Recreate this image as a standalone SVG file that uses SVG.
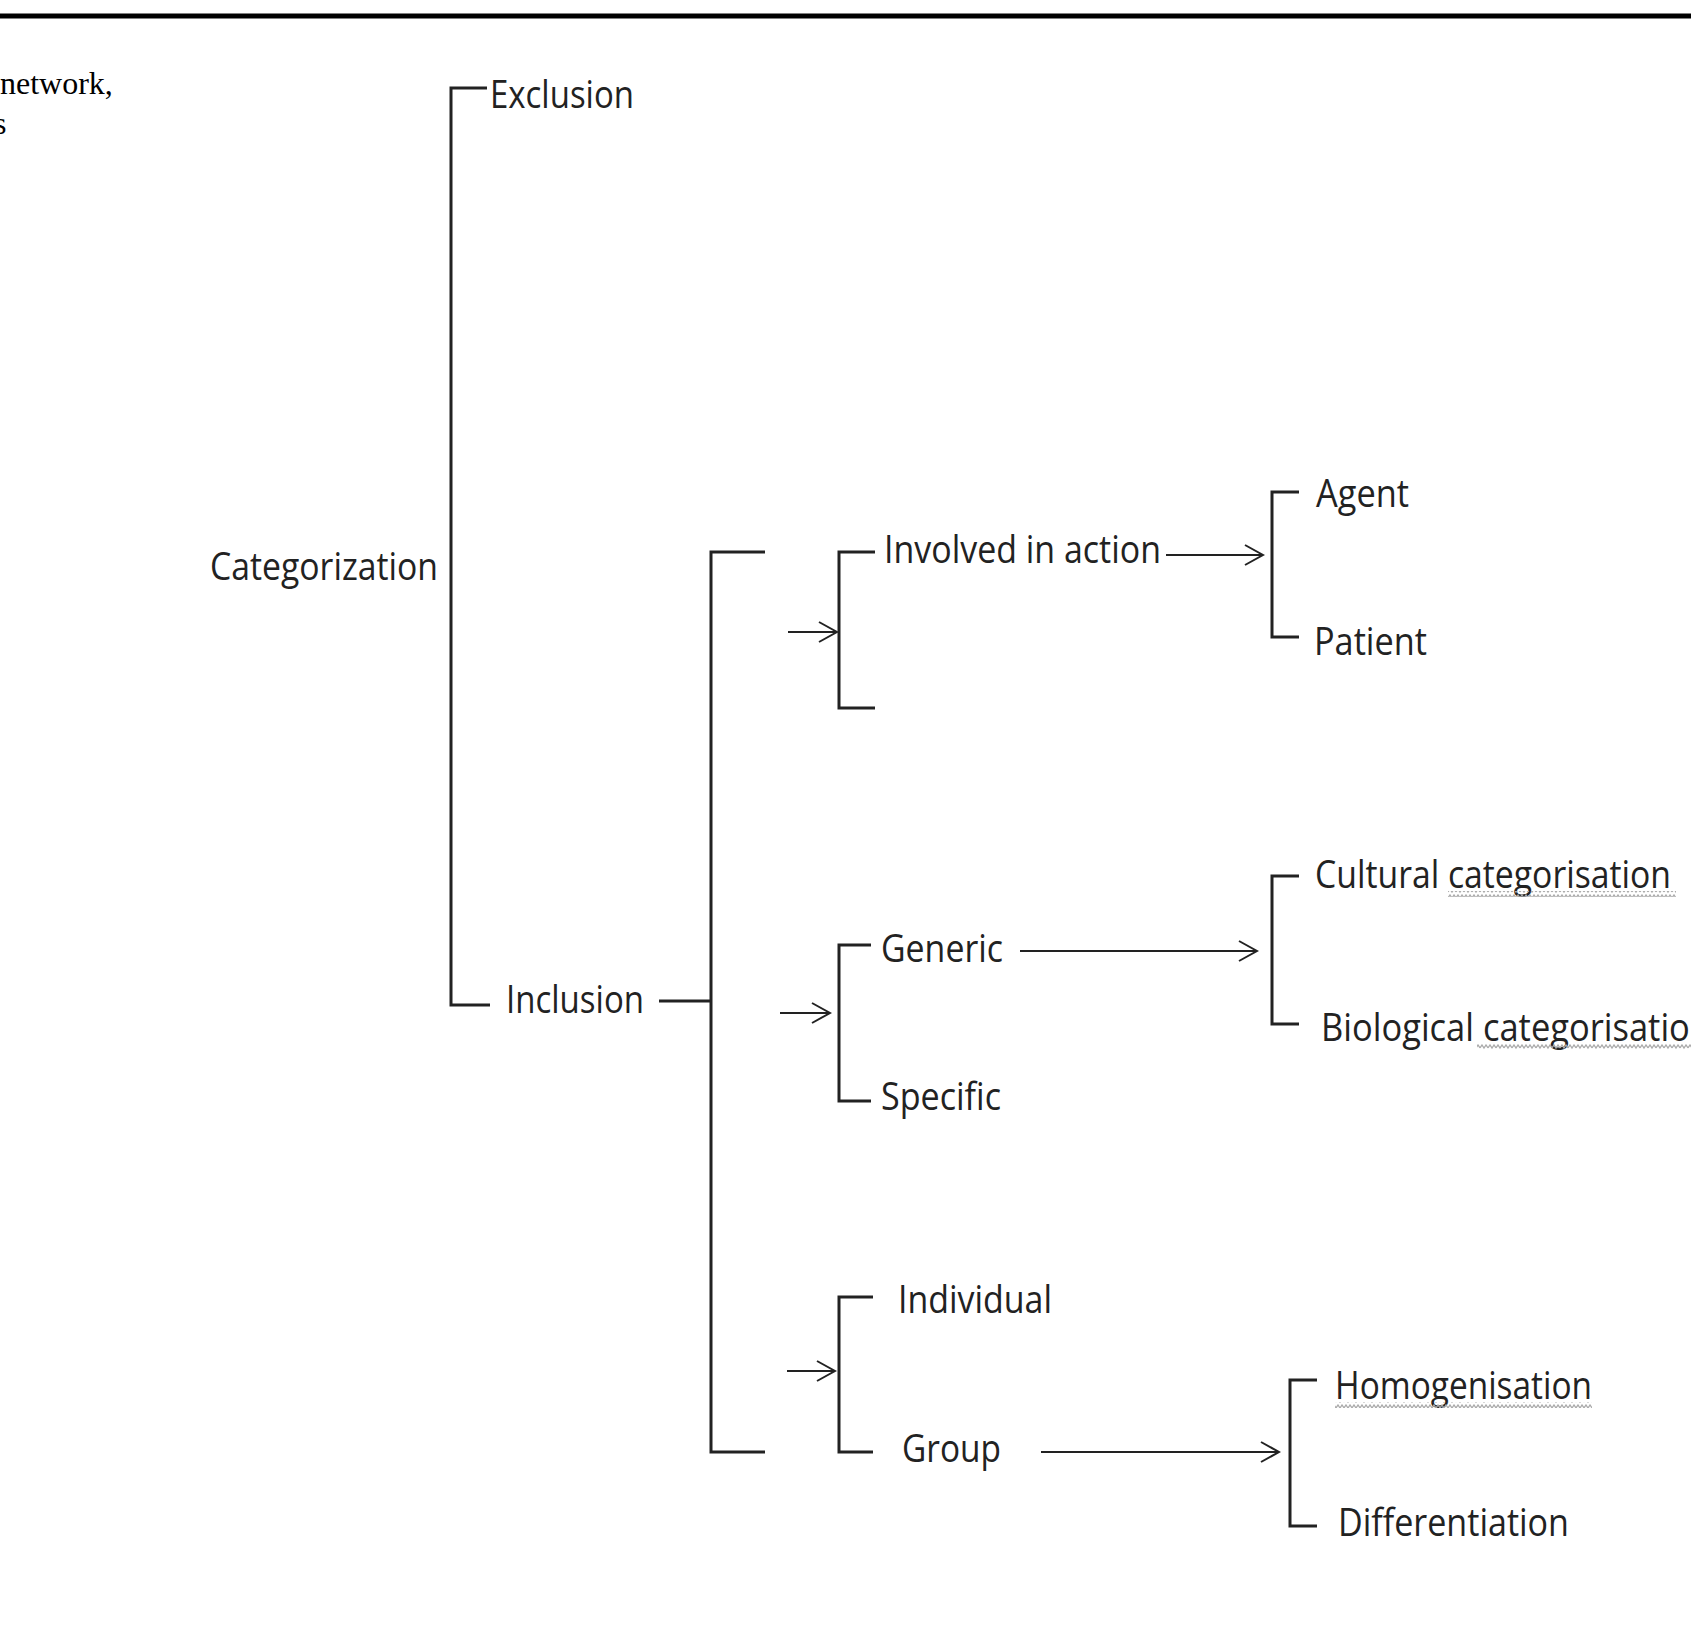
<svg xmlns="http://www.w3.org/2000/svg" width="1691" height="1632" viewBox="0 0 1691 1632">
<defs>
<style>
.t{font-family:"Open Sans","Liberation Sans",sans-serif;font-size:38px;fill:#222}
.s{font-family:"Liberation Serif",serif;font-size:32px;fill:#000}
.b{fill:none;stroke:#222;stroke-width:3}
.a{fill:none;stroke:#222;stroke-width:2}
.w{fill:none;stroke:#aaa;stroke-width:1.5}
</style>
<marker id="ah" markerWidth="24" markerHeight="24" refX="22" refY="12" orient="auto" markerUnits="userSpaceOnUse">
<path d="M4,2 L22,12 L4,22" fill="none" stroke="#222" stroke-width="2"/>
</marker>
<pattern id="wv" width="8" height="6" patternUnits="userSpaceOnUse">
<path d="M0,4 L2,1 L4,4 L6,1 L8,4" fill="none" stroke="#aaa" stroke-width="1.3"/>
</pattern>
</defs>
<rect width="1691" height="1632" fill="#fff"/>
<line x1="0" y1="16" x2="1691" y2="16" stroke="#000" stroke-width="5"/>
<text class="s" x="0" y="94">network,</text>
<text class="s" x="-6" y="134">s</text>
<g id="connectors">
<path class="b" d="M487,88 H451 V1005 H490"/>
<line class="b" x1="659" y1="1001" x2="711" y2="1001"/>
<path class="b" d="M765,552 H711 V1452 H765"/>
<path class="b" d="M875,552 H839 V708 H875"/>
<path class="b" d="M871,945 H839 V1101 H871"/>
<path class="b" d="M873,1297 H839 V1452 H873"/>
<path class="b" d="M1299,492 H1272 V637 H1299"/>
<path class="b" d="M1299,876 H1272 V1024 H1299"/>
<path class="b" d="M1317,1380 H1290 V1526 H1317"/>
<line class="a" x1="788" y1="632" x2="837" y2="632" marker-end="url(#ah)"/>
<line class="a" x1="780" y1="1013" x2="830" y2="1013" marker-end="url(#ah)"/>
<line class="a" x1="787" y1="1371" x2="835" y2="1371" marker-end="url(#ah)"/>
<line class="a" x1="1166" y1="555" x2="1263" y2="555" marker-end="url(#ah)"/>
<line class="a" x1="1020" y1="951" x2="1257" y2="951" marker-end="url(#ah)"/>
<line class="a" x1="1041" y1="1452" x2="1279" y2="1452" marker-end="url(#ah)"/>
</g>
<g id="n-categorization"><text class="t" x="210" y="580" textLength="228" lengthAdjust="spacingAndGlyphs">Categorization</text></g>
<g id="n-exclusion"><text class="t" x="490" y="108" textLength="144" lengthAdjust="spacingAndGlyphs">Exclusion</text></g>
<g id="n-inclusion"><text class="t" x="506" y="1013" textLength="138" lengthAdjust="spacingAndGlyphs">Inclusion</text></g>
<g id="n-involved"><text class="t" x="884" y="563" textLength="277" lengthAdjust="spacingAndGlyphs">Involved in action</text></g>
<g id="n-agent"><text class="t" x="1316" y="507" textLength="93" lengthAdjust="spacingAndGlyphs">Agent</text></g>
<g id="n-patient"><text class="t" x="1314" y="655" textLength="113" lengthAdjust="spacingAndGlyphs">Patient</text></g>
<g id="n-generic"><text class="t" x="881" y="962" textLength="122" lengthAdjust="spacingAndGlyphs">Generic</text></g>
<g id="n-specific"><text class="t" x="881" y="1110" textLength="120" lengthAdjust="spacingAndGlyphs">Specific</text></g>
<g id="n-cultural"><text class="t" x="1315" y="888" textLength="356" lengthAdjust="spacingAndGlyphs">Cultural categorisation</text>
<rect x="1448" y="891" width="228" height="6" fill="url(#wv)"/></g>
<g id="n-biological"><text class="t" x="1321" y="1041" textLength="390" lengthAdjust="spacingAndGlyphs">Biological categorisation</text>
<rect x="1477" y="1044" width="214" height="6" fill="url(#wv)"/></g>
<g id="n-individual"><text class="t" x="898" y="1313" textLength="154" lengthAdjust="spacingAndGlyphs">Individual</text></g>
<g id="n-group"><text class="t" x="902" y="1462" textLength="99" lengthAdjust="spacingAndGlyphs">Group</text></g>
<g id="n-homogenisation"><text class="t" x="1335" y="1399" textLength="257" lengthAdjust="spacingAndGlyphs">Homogenisation</text>
<rect x="1335" y="1402" width="257" height="6" fill="url(#wv)"/></g>
<g id="n-differentiation"><text class="t" x="1338" y="1536" textLength="231" lengthAdjust="spacingAndGlyphs">Differentiation</text></g>
</svg>
